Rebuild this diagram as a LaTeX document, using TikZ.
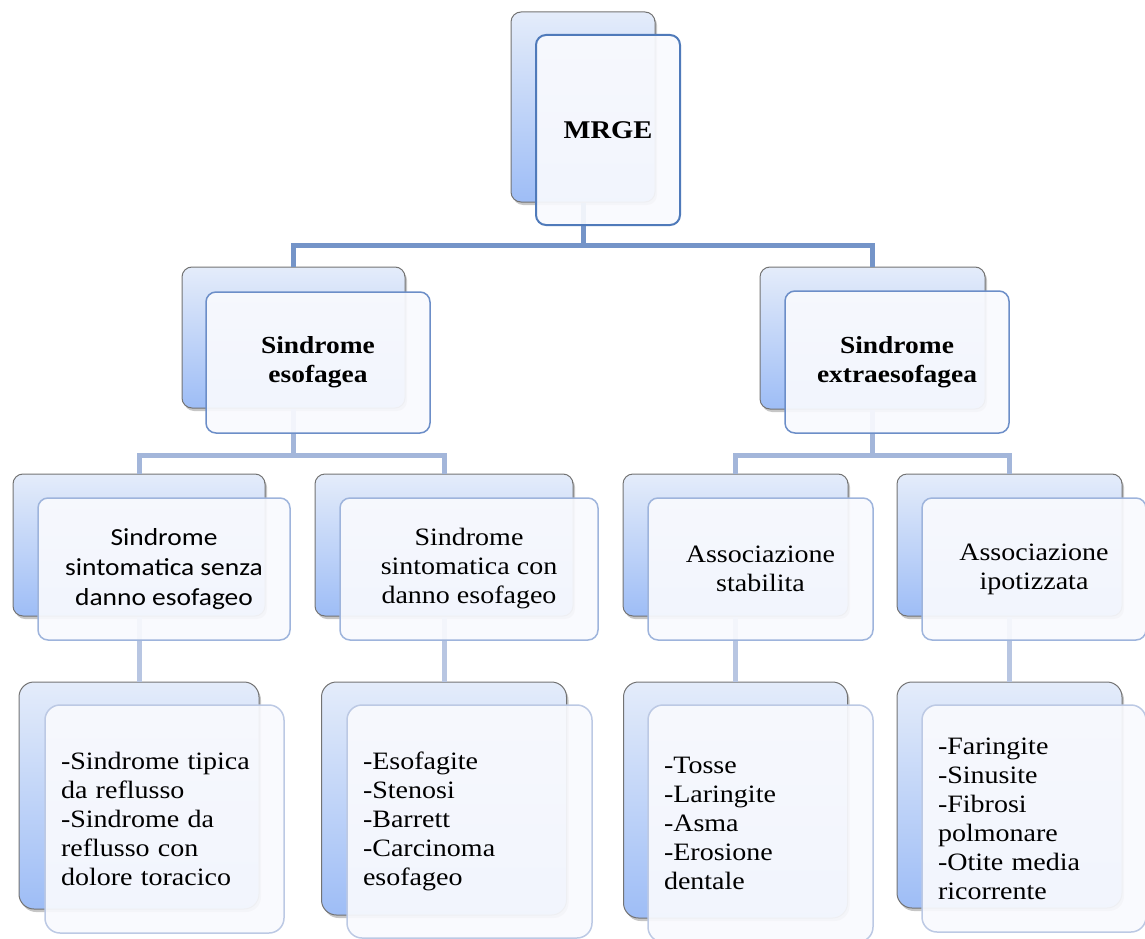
\documentclass[tikz,border=0pt]{standalone}
\usepackage{fontspec}
\setmainfont{Liberation Serif}[FakeStretch=1.12]
\newfontfamily\calibrifont{Carlito}[FakeStretch=1.12]
\usetikzlibrary{shadows}

\definecolor{backtop}{RGB}{228,236,250}
\definecolor{backbot}{RGB}{158,189,246}
\definecolor{frontfill}{RGB}{249,250,254}
\definecolor{edgeA}{RGB}{79,122,186}
\definecolor{edgeB}{RGB}{108,142,200}
\definecolor{edgeC}{RGB}{158,180,220}
\definecolor{edgeD}{RGB}{188,201,228}
\definecolor{linkA}{RGB}{116,148,200}
\definecolor{linkB}{RGB}{163,182,218}
\definecolor{linkC}{RGB}{184,198,226}

\tikzset{
  backbox/.style={draw=black!55, line width=1pt, rounded corners=10pt,
    top color=backtop, bottom color=backbot, inner sep=0pt,
    drop shadow={shadow xshift=2pt, shadow yshift=-3pt, opacity=0.45}},
  frontbox/.style={draw, fill=frontfill, fill opacity=0.92, text opacity=1,
    line width=1.5pt, rounded corners=10pt, inner sep=0pt, align=center,
    font=\fontsize{25}{29}\selectfont},
  listbox/.style={frontbox, rounded corners=15pt, align=left},
  link/.style={line width=5pt}
}

\begin{document}
\begin{tikzpicture}[x=1pt,y=-1pt]
  \useasboundingbox (0,0) rectangle (1145,939);

  % back boxes
  \node[backbox, minimum width=144pt, minimum height=190pt] (mrge-b) at (583,107) {};
  \node[backbox, minimum width=223pt, minimum height=141pt] (eso-b) at (293.5,337.5) {};
  \node[backbox, minimum width=225pt, minimum height=142pt] (extra-b) at (872.5,338) {};
  \node[backbox, minimum width=252pt, minimum height=142pt] (senza-b) at (139,545) {};
  \node[backbox, minimum width=258pt, minimum height=142pt] (con-b) at (444,545) {};
  \node[backbox, minimum width=225pt, minimum height=142pt] (stab-b) at (735.5,545) {};
  \node[backbox, minimum width=225pt, minimum height=142pt] (ipot-b) at (1009.5,545) {};
  \node[backbox, rounded corners=15pt, minimum width=240pt, minimum height=227pt] (tipi-b) at (139,795.5) {};
  \node[backbox, rounded corners=15pt, minimum width=245pt, minimum height=233pt] (esof-b) at (444,798.5) {};
  \node[backbox, rounded corners=15pt, minimum width=224pt, minimum height=236pt] (tosse-b) at (735.5,800) {};
  \node[backbox, rounded corners=15pt, minimum width=225pt, minimum height=226pt] (farin-b) at (1009.5,795) {};

  % connectors
  \coordinate (j0) at (583,245);
  \coordinate (j1) at (293.5,455);
  \coordinate (j2) at (872.5,455);
  \draw[link, linkA] (mrge-b.south) -- (j0) -| (eso-b.north);
  \draw[link, linkA] (j0) -| (extra-b.north);
  \draw[link, linkB] (eso-b.south) -- (j1) -| (senza-b.north);
  \draw[link, linkB] (j1) -| (con-b.north);
  \draw[link, linkB] (extra-b.south) -- (j2) -| (stab-b.north);
  \draw[link, linkB] (j2) -| (ipot-b.north);
  \draw[link, linkC] (senza-b.south) -- (senza-b.south |- tipi-b.north);
  \draw[link, linkC] (con-b.south) -- (con-b.south |- esof-b.north);
  \draw[link, linkC] (stab-b.south) -- (stab-b.south |- tosse-b.north);
  \draw[link, linkC] (ipot-b.south) -- (ipot-b.south |- farin-b.north);

  % front boxes
  \node[frontbox, draw=edgeA, line width=2pt, minimum width=144pt, minimum height=190pt,
    font=\bfseries\fontsize{25.5}{30}\selectfont] (mrge) at (608,130) {MRGE};
  \node[frontbox, draw=edgeB, minimum width=224pt, minimum height=141pt,
    font=\bfseries\fontsize{24.5}{29}\selectfont] (eso) at (318,362.5) {Sindrome\\esofagea};
  \node[frontbox, draw=edgeB, minimum width=224pt, minimum height=142pt,
    font=\bfseries\fontsize{24.5}{29}\selectfont] (extra) at (897,362) {Sindrome\\extraesofagea};

  \node[frontbox, draw=edgeC, minimum width=252pt, minimum height=142pt,
    font=\calibrifont\fontsize{24.5}{30}\selectfont] (senza) at (164,569)
    {Sindrome\\sintomatica senza\\danno esofageo};
  \node[frontbox, draw=edgeC, minimum width=258pt, minimum height=142pt,
    font=\fontsize{25}{29}\selectfont] (con) at (469,569)
    {Sindrome\\sintomatica con\\danno esofageo};
  \node[frontbox, draw=edgeC, minimum width=225pt, minimum height=142pt] (stab) at (760.5,569)
    {Associazione\\stabilita};
  \node[frontbox, draw=edgeC, minimum width=224pt, minimum height=142pt] (ipot) at (1034,569)
    {Associazione\\ipotizzata};

  \node[listbox, draw=edgeD, text width=207pt, minimum width=239pt, minimum height=228pt] (tipi) at (164.5,819)
    {-Sindrome tipica\\da reflusso\\-Sindrome da\\reflusso con\\dolore toracico};
  \node[listbox, draw=edgeD, text width=213pt, minimum width=245pt, minimum height=233pt] (esof) at (469.5,821.5)
    {-Esofagite\\-Stenosi\\-Barrett\\-Carcinoma\\esofageo};
  \node[listbox, draw=edgeD, text width=193pt, minimum width=225pt, minimum height=237pt] (tosse) at (760.5,823.5)
    {-Tosse\\-Laringite\\-Asma\\-Erosione\\dentale};
  \node[listbox, draw=edgeD, text width=192pt, minimum width=224pt, minimum height=227pt] (farin) at (1034,818.5)
    {-Faringite\\-Sinusite\\-Fibrosi\\polmonare\\-Otite media\\ricorrente};
\end{tikzpicture}
\end{document}
